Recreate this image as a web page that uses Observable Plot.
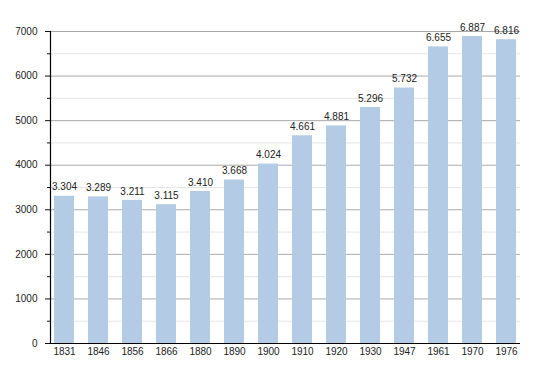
<!DOCTYPE html>
<html>
<head>
<meta charset="utf-8">
<script src="https://cdn.jsdelivr.net/npm/d3@7"></script>
<script src="https://cdn.jsdelivr.net/npm/@observablehq/plot@0.6"></script>
<style>
  html, body { margin: 0; padding: 0; background: #fff; }
  #chart svg { display: block; }
</style>
</head>
<body>
<div id="chart"></div>
<script>
const years = ["1831","1846","1856","1866","1880","1890","1900","1910","1920","1930","1947","1961","1970","1976"];
const population = [3304,3289,3211,3115,3410,3668,4024,4661,4881,5296,5732,6655,6887,6816];
const majorTicks = [0,1000,2000,3000,4000,5000,6000,7000];
const minorTicks = [500,1500,2500,3500,4500,5500,6500];

const data = years.map((y, i) => ({year: y, value: population[i]}));
const fmt = d3.formatLocale({thousands: ".", grouping: [3], decimal: ",", currency: ["", ""]}).format(",");

const chart = Plot.plot({
  width: 550,
  height: 373,
  marginLeft: 50,
  marginRight: 30,
  marginTop: 31,
  marginBottom: 30,
  style: {fontFamily: "'Liberation Sans', Arial, sans-serif", fontSize: "10px", color: "#222", background: "#fff"},
  x: {domain: years, paddingInner: 0.4, paddingOuter: 0.03, align: 0.5, label: null},
  y: {domain: [0, 7000], label: null},
  marks: [
    Plot.ruleY(minorTicks, {stroke: "#e6e6e6", strokeWidth: 1}),
    Plot.ruleY(majorTicks, {stroke: "#a9a9a9", strokeWidth: 1}),
    Plot.barY(data, {x: "year", y: "value", fill: "#b3cbe5"}),
    Plot.text(data, {x: "year", y: "value", text: d => fmt(d.value), dy: -9, fill: "#222"}),
    Plot.axisY(minorTicks, {tickSize: 3, tickFormat: () => "", stroke: "#111"}),
    Plot.axisY(majorTicks, {tickSize: 5, tickPadding: 8, tickFormat: d => String(d), stroke: "#111", fill: "#222"}),
    Plot.axisX({tickSize: 0, tickPadding: 4, fill: "#222"}),
    Plot.ruleY([0], {stroke: "#000", strokeWidth: 1.2}),
    Plot.frame({anchor: "left", stroke: "#000", strokeWidth: 1.2})
  ]
});
document.getElementById("chart").appendChild(chart);
</script>
</body>
</html>
